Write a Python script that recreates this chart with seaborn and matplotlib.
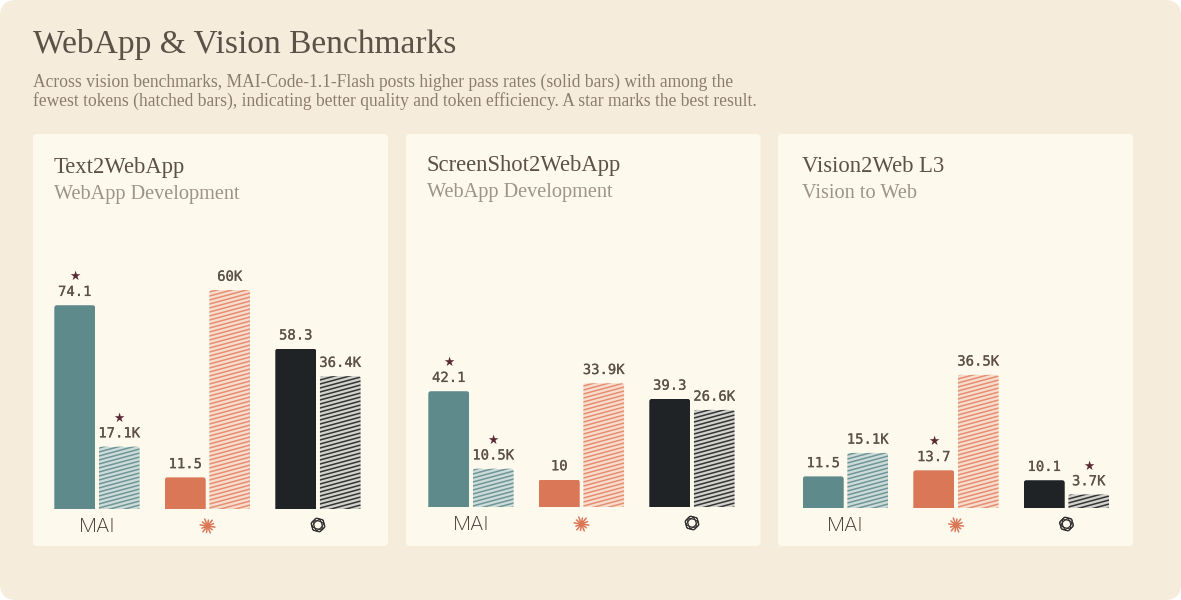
import numpy as np
import pandas as pd
import matplotlib
matplotlib.use("Agg")
import matplotlib.pyplot as plt
import matplotlib.patheffects as pe
import seaborn as sns
from matplotlib.collections import LineCollection
from matplotlib.patches import Ellipse, FancyBboxPatch
from matplotlib.transforms import Affine2D, IdentityTransform

W, H = 1181, 600

models = ["MAI", "Claude", "GPT"]
panel_titles = ["Text2WebApp", "ScreenShot2WebApp", "Vision2Web L3"]
panel_subtitles = ["WebApp Development", "WebApp Development", "Vision to Web"]
pass_rates = [[74.1, 11.5, 58.3], [42.1, 10, 39.3], [11.5, 13.7, 10.1]]
tokens_k = [[17.1, 60, 36.4], [10.5, 33.9, 26.6], [15.1, 36.5, 3.7]]
pass_labels = [["74.1", "11.5", "58.3"], ["42.1", "10", "39.3"], ["11.5", "13.7", "10.1"]]
token_labels = [["17.1K", "60K", "36.4K"], ["10.5K", "33.9K", "26.6K"], ["15.1K", "36.5K", "3.7K"]]
best_pass = [0, 0, 1]
best_tokens = [0, 0, 2]

solid_colors = ["#5f8a8b", "#d97757", "#202325"]
pale_colors = ["#cddcd8", "#f8dccd", "#d2d1cc"]
stripe_colors = ["#6f9696", "#e58f72", "#333536"]

# pixel layout of each card: card left/right, first group centre, baseline, title y
card_boxes = [(33, 388), (406, 760.5), (778, 1133)]
group_x0 = [97, 471, 845.5]
baselines = [509, 507, 508]
title_y = [167.5, 165.5, 166.5]
text_x = [54, 427, 802]
GROUP_PX = 110.5
AX_H = 250
PX_PER_PASS = 2.75
PX_PER_K = 3.65

sns.set_theme(style="white", rc={"axes.facecolor": "none", "figure.facecolor": "white"})
SERIF = "Liberation Serif"
MONO = "DejaVu Sans Mono"

fig = plt.figure(figsize=(W / 100, H / 100), dpi=100)
PX = Affine2D().scale(1 / W, -1 / H).translate(0, 1) + fig.transFigure


def round_box(x0, y0, x1, y1, r, color, z):
    fig.add_artist(FancyBboxPatch((x0 + r, y0 + r), x1 - x0 - 2 * r, y1 - y0 - 2 * r,
                                  boxstyle=f"round,pad={r},rounding_size={r}",
                                  fc=color, ec="none", transform=PX, zorder=z))


def rounded_clip(bb, r=2.5):
    return FancyBboxPatch((bb.x0 + r, bb.y0 - 10), bb.width - 2 * r, bb.height + 10 - r,
                          boxstyle=f"round,pad={r},rounding_size={r}",
                          transform=IdentityTransform())


def hatch_bar(ax, bar, color):
    # thin rising stripes clipped to the rounded bar
    bb = bar.get_window_extent()
    rise = 0.27 * bb.width
    ys = np.arange(bb.y0 - rise - 4, bb.y1 + 4, 4.0)
    segs = [[(bb.x0, y), (bb.x1, y + rise)] for y in ys]
    lc = LineCollection(segs, colors=color, linewidths=1.1, transform=IdentityTransform(), zorder=3)
    ax.add_collection(lc, autolim=False)
    lc.set_clip_path(rounded_clip(bb))


def star(ax, bar, pts):
    ax.annotate("★", (bar.get_x() + bar.get_width() / 2, bar.get_height()), xytext=(0, pts),
                textcoords="offset points", ha="center", va="center",
                fontsize=9, color="#5a2a35", family="DejaVu Sans")


def burst(cx, cy):
    radii = [7.5, 6, 7.5, 6.5, 7.5, 6, 7.5, 6.5, 7.5, 6, 7.5, 6.5]
    for k, r in enumerate(radii):
        a = np.pi * k / 6 + 0.15
        fig.add_artist(plt.Line2D([cx, cx + r * np.cos(a)], [cy, cy + r * np.sin(a)], color=solid_colors[1],
                                  lw=1.1, transform=PX, zorder=3))
    fig.add_artist(Ellipse((cx, cy), 6, 6, fc=solid_colors[1], ec="none", transform=PX, zorder=3))


def knot(cx, cy):
    for ang in (15, 75, 135):
        fig.add_artist(Ellipse((cx, cy), 14, 8, angle=ang, fc="none", ec="#2b2b2b", lw=0.8, transform=PX, zorder=3))
    fig.add_artist(Ellipse((cx, cy), 13, 13, fc="none", ec="#2b2b2b", lw=0.6, transform=PX, zorder=3))


round_box(0, 0, W, H, 16, "#f6ecdc", -3)
fig.text(33, 45, "WebApp & Vision Benchmarks", transform=PX, family=SERIF, fontsize=24.1,
         color="#5c5047", va="center")
fig.text(33, 82.5, "Across vision benchmarks, MAI-Code-1.1-Flash posts higher pass rates (solid bars) with among the",
         transform=PX, family=SERIF, fontsize=12.65, color="#8a7d70", va="center")
fig.text(33, 101.5, "fewest tokens (hatched bars), indicating better quality and token efficiency. A star marks the best result.",
         transform=PX, family=SERIF, fontsize=12.65, color="#8a7d70", va="center")

for p in range(3):
    round_box(card_boxes[p][0], 134, card_boxes[p][1], 546, 4, "#fef9ed", -2)
    fig.text(text_x[p], title_y[p], panel_titles[p], transform=PX, family=SERIF, fontsize=16.3,
             color="#5c5047", va="center")
    fig.text(text_x[p], title_y[p] + 27, panel_subtitles[p], transform=PX, family=SERIF, fontsize=14.6,
             color="#9c9488", va="center")

    left = group_x0[p] - GROUP_PX / 2
    ax = fig.add_axes([left / W, (H - baselines[p]) / H, 3 * GROUP_PX / W, AX_H / H])
    ax2 = ax.twinx()

    score_df = pd.DataFrame({"model": models, "value": pass_rates[p], "metric": "pass"})
    token_df = pd.DataFrame({"model": models, "value": tokens_k[p], "metric": "tokens"})
    bar_args = dict(x="model", y="value", hue="metric", hue_order=["pass", "tokens"], order=models, dodge=True,
                    width=0.805, gap=0.08, saturation=1, legend=False, linewidth=0, errorbar=None)
    sns.barplot(data=score_df, ax=ax, **bar_args)
    sns.barplot(data=token_df, ax=ax2, **bar_args)

    for a, scale in ((ax, PX_PER_PASS), (ax2, PX_PER_K)):
        a.set_xlim(-0.5, 2.5)
        a.set_ylim(0, AX_H / scale)
        a.set_yticks([])
        a.set_ylabel("")
        a.set_xlabel("")
        a.grid(False)
        sns.despine(ax=a, left=True, right=True, top=True, bottom=True)

    ax.set_xticks(range(3))
    ax.set_xticklabels(["MAI", "", ""], family="Inter", fontsize=14.5, fontweight="light", color="#3f362f")
    ax.tick_params(axis="x", length=0, pad=6.5)

    pass_bars = [c for c in ax.containers if len(c)][0]
    token_bars = [c for c in ax2.containers if len(c)][0]
    for i in range(3):
        pass_bars[i].set_facecolor(solid_colors[i])
        pass_bars[i].set_clip_path(rounded_clip(pass_bars[i].get_window_extent()))
        token_bars[i].set_facecolor(pale_colors[i])
        token_bars[i].set_clip_path(rounded_clip(token_bars[i].get_window_extent()))
        hatch_bar(ax2, token_bars[i], stripe_colors[i])

    stroke = [pe.withStroke(linewidth=0.15, foreground="#5c5047")]
    for a, bars, labels in ((ax, pass_bars, pass_labels[p]), (ax2, token_bars, token_labels[p])):
        for t in a.bar_label(bars, labels=labels, padding=4.5, family=MONO, fontsize=10, color="#5c5047"):
            t.set_path_effects(stroke)
    star(ax, pass_bars[best_pass[p]], 20.5)
    star(ax2, token_bars[best_tokens[p]], 20.5)

    burst(group_x0[p] + GROUP_PX, baselines[p] + 17)
    knot(group_x0[p] + 2 * GROUP_PX, baselines[p] + 16)

fig.savefig("out.png", dpi=100)
